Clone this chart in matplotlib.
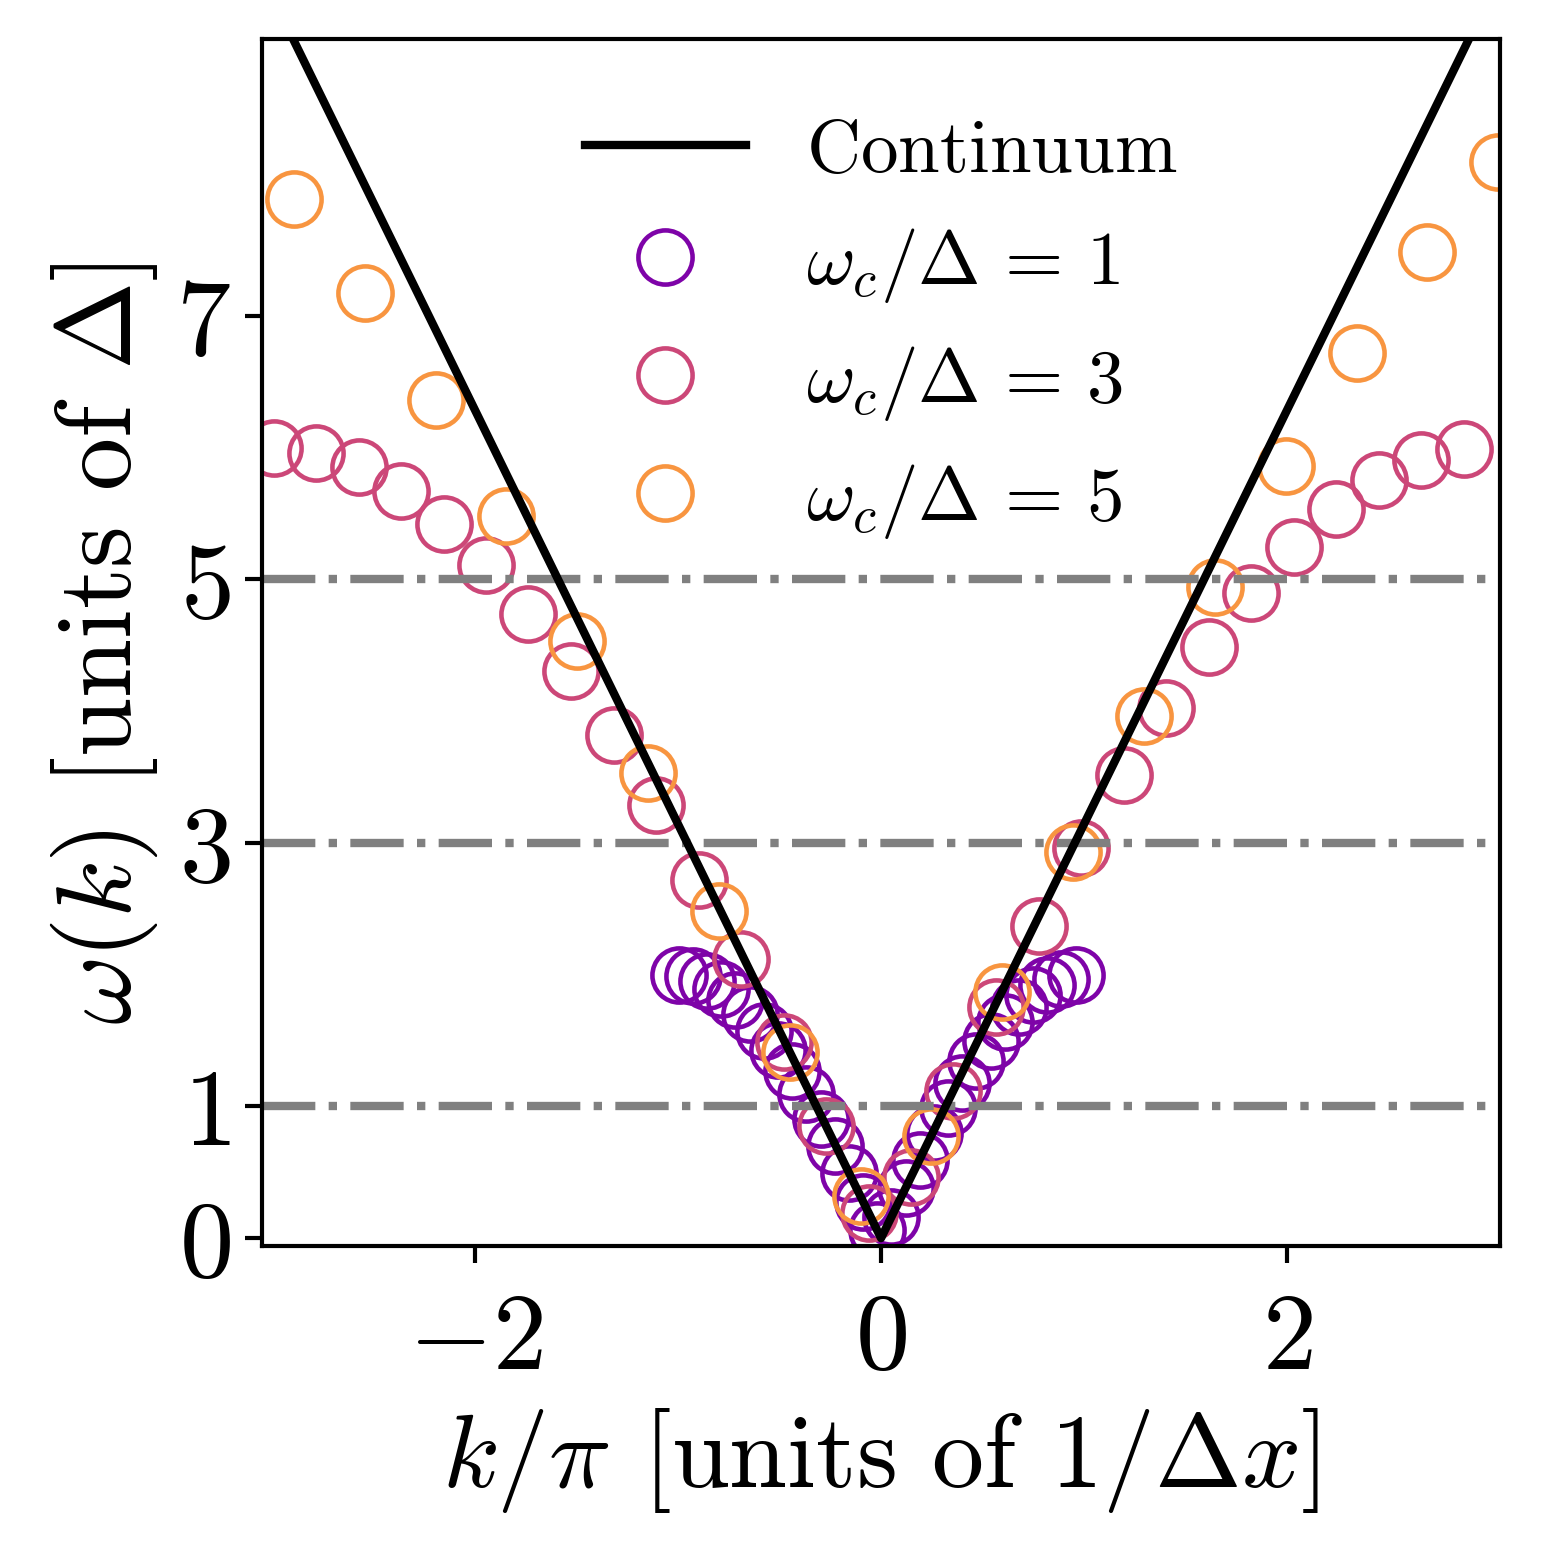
import matplotlib.pyplot as plt

plt.rcParams.update({
    "font.family": "serif",
    "font.serif": ["cmr10"],
    "mathtext.fontset": "cm",
    "axes.formatter.use_mathtext": True,
})

# continuum dispersion (straight line through the origin)
k_cont = [-3.05, 0.0, 3.05]
w_cont = [9.582, 0.0, 9.582]

# omega_c / Delta = 1
k_wc1 = [-0.996, -0.926, -0.856, -0.787, -0.717, -0.647, -0.577, -0.507,
         -0.438, -0.368, -0.298, -0.228, -0.158, -0.088, -0.019, 0.051,
         0.121, 0.191, 0.261, 0.330, 0.400, 0.470, 0.540, 0.610, 0.680,
         0.749, 0.819, 0.889, 0.959]
w_wc1 = [2.000, 1.987, 1.949, 1.889, 1.806, 1.700, 1.574, 1.430, 1.270,
         1.093, 0.903, 0.701, 0.491, 0.276, 0.060, 0.160, 0.378, 0.591,
         0.797, 0.991, 1.176, 1.346, 1.500, 1.637, 1.753, 1.846, 1.920,
         1.970, 1.996]

# omega_c / Delta = 3
k_wc3 = [-2.993, -2.784, -2.574, -2.365, -2.155, -1.946, -1.737, -1.527,
         -1.318, -1.108, -0.899, -0.690, -0.480, -0.271, -0.061, 0.148,
         0.357, 0.567, 0.776, 0.986, 1.195, 1.405, 1.614, 1.823, 2.033,
         2.242, 2.452, 2.661, 2.871]
w_wc3 = [6.000, 5.962, 5.851, 5.671, 5.422, 5.108, 4.734, 4.304, 3.820,
         3.289, 2.721, 2.121, 1.492, 0.849, 0.192, 0.464, 1.115, 1.755,
         2.371, 2.962, 3.514, 4.027, 4.488, 4.896, 5.249, 5.533, 5.754,
         5.905, 5.986]

# omega_c / Delta = 5
k_wc5 = [-2.893, -2.544, -2.195, -1.846, -1.497, -1.148, -0.799, -0.450,
         -0.101, 0.248, 0.598, 0.947, 1.296, 1.645, 1.994, 2.343, 2.692,
         3.041]
w_wc5 = [7.886, 7.171, 6.363, 5.479, 4.532, 3.529, 2.484, 1.409, 0.317,
         0.778, 1.868, 2.931, 3.960, 4.940, 5.862, 6.715, 7.484, 8.166]

cutoffs = [1, 3, 5]
colors = ["#7e03a8", "#cc4778", "#f89540"]
yticks = [0, 1, 3, 5, 7]
xticks = [-2, 0, 2]

fig = plt.figure(figsize=(5.14, 5.193), dpi=300)
ax = fig.add_axes([0.1699, 0.1996, 0.8029, 0.7747])

ax.plot(k_cont, w_cont, color="black", lw=2, label=r"$\mathrm{Continuum}$", zorder=3)

series = [(k_wc1, w_wc1), (k_wc3, w_wc3), (k_wc5, w_wc5)]
for (kk, ww), wc, c in zip(series, cutoffs, colors):
    ax.plot(kk, ww, "o", mfc="none", mec=c, mew=1.1, ms=13,
            label=r"$\omega_c/\Delta\,=\,%d$" % wc)

for wc in cutoffs:
    ax.axhline(wc, color="gray", ls="-.", lw=2, zorder=2.5)

ax.set_xlim(-3.05, 3.05)
ax.set_ylim(-0.06, 9.1)
ax.set_xticks(xticks)
ax.set_yticks(yticks)
ax.tick_params(labelsize=26, width=1.0, length=4)
ax.tick_params(axis="x", pad=7)
for s in ax.spines.values():
    s.set_linewidth(1.0)

ax.set_xlabel(r"$k/\pi$ [units of $1/\Delta x$]", fontsize=25)
ax.set_ylabel(r"$\omega(k)$ [units of $\Delta$]", fontsize=25.5)

ax.legend(loc="upper center", frameon=False, fontsize=18, handlelength=2.15,
          labelspacing=0.52, bbox_to_anchor=(0.5, 0.99))

fig.savefig("out.png", dpi=300)
